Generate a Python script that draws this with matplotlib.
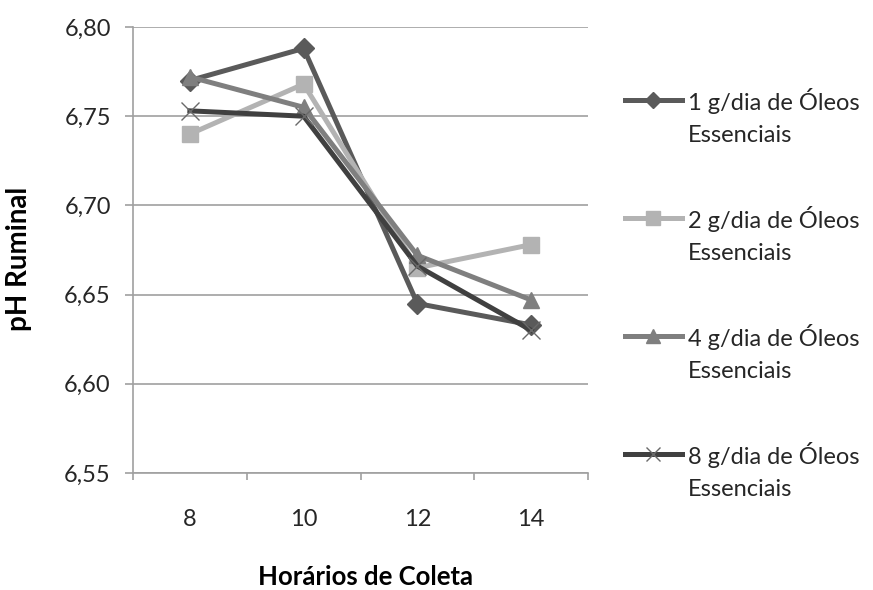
import matplotlib.pyplot as plt
from matplotlib.lines import Line2D
import numpy as np

# horários de coleta e pH ruminal médio por dose de óleos essenciais
horarios = ["8", "10", "12", "14"]
ph_1g = [6.770, 6.788, 6.645, 6.633]
ph_2g = [6.740, 6.768, 6.665, 6.678]
ph_4g = [6.772, 6.755, 6.672, 6.647]
ph_8g = [6.753, 6.750, 6.666, 6.630]
rotulos = ["1 g/dia de Óleos\nEssenciais", "2 g/dia de Óleos\nEssenciais",
           "4 g/dia de Óleos\nEssenciais", "8 g/dia de Óleos\nEssenciais"]

plt.rcParams["font.family"] = ["Lato", "DejaVu Sans"]
plt.rcParams["font.size"] = 17

W, H = 873, 590
fig = plt.figure(figsize=(W / 100, H / 100), dpi=100)
ax = fig.add_axes([133 / W, 1 - 473 / H, 455 / W, 446 / H])

x = np.arange(len(horarios))
estilos = [
    (ph_1g, "#5a5a5a", "D", 10, "#5a5a5a"),
    (ph_2g, "#b3b3b3", "s", 12, "#b3b3b3"),
    (ph_4g, "#7f7f7f", "^", 12, "#7f7f7f"),
    (ph_8g, "#404040", "x", 13, "#6a6a6a"),
]
for vals, cor, mk, ms, mcor in estilos:
    ax.plot(x, vals, color=cor, linewidth=3.6, marker=mk, markersize=ms,
            markerfacecolor=mcor, markeredgecolor=mcor, markeredgewidth=1,
            zorder=3)

ax.set_xlim(-0.5, 3.5)
ax.set_ylim(6.55, 6.80)
ax.set_yticks([6.55, 6.60, 6.65, 6.70, 6.75, 6.80])
ax.set_yticklabels(["6,55", "6,60", "6,65", "6,70", "6,75", "6,80"])
ax.grid(axis="y", color="#a0a0a0", linewidth=1.2)
ax.set_axisbelow(True)

# marcas do eixo x entre as categorias, rótulos no centro
ax.set_xticks(np.arange(-0.5, 4.0, 1.0))
ax.set_xticklabels([])
ax.set_xticks(x, minor=True)
ax.set_xticklabels(horarios, minor=True)
ax.tick_params(axis="x", which="major", length=5, color="#a0a0a0", width=1.2)
ax.tick_params(axis="x", which="minor", length=0, pad=26, labelcolor="#262626")
ax.tick_params(axis="y", length=6, color="#a0a0a0", width=1.2, pad=10, labelcolor="#262626")

for s in ["top", "right"]:
    ax.spines[s].set_visible(False)
for s in ["left", "bottom"]:
    ax.spines[s].set_color("#a0a0a0")
    ax.spines[s].set_linewidth(1.2)

ax.set_ylabel("pH Ruminal", fontsize=20, fontweight="bold")
ax.set_xlabel("Horários de Coleta", fontsize=18.5, fontweight="bold")
ax.yaxis.set_label_coords(-101 / 455, 0.48)
ax.xaxis.set_label_coords(0.51, -92 / 446)

# legenda: marcador alinhado com a primeira linha do texto
for i, (vals, cor, mk, ms, mcor) in enumerate(estilos):
    yl = 1 - (100 + 118 * i) / H
    fig.add_artist(Line2D([625 / W, 682 / W], [yl, yl], color=cor, linewidth=3.6,
                          transform=fig.transFigure))
    fig.add_artist(Line2D([653 / W], [yl], marker=mk, markersize=ms * 0.8,
                          markerfacecolor=mcor, markeredgecolor=mcor,
                          transform=fig.transFigure))
    fig.text(688 / W, 1 - (117 + 118 * i) / H, rotulos[i], ha="left", va="center",
             fontsize=17, color="#262626", linespacing=1.6)

fig.savefig("out.png", dpi=100)
